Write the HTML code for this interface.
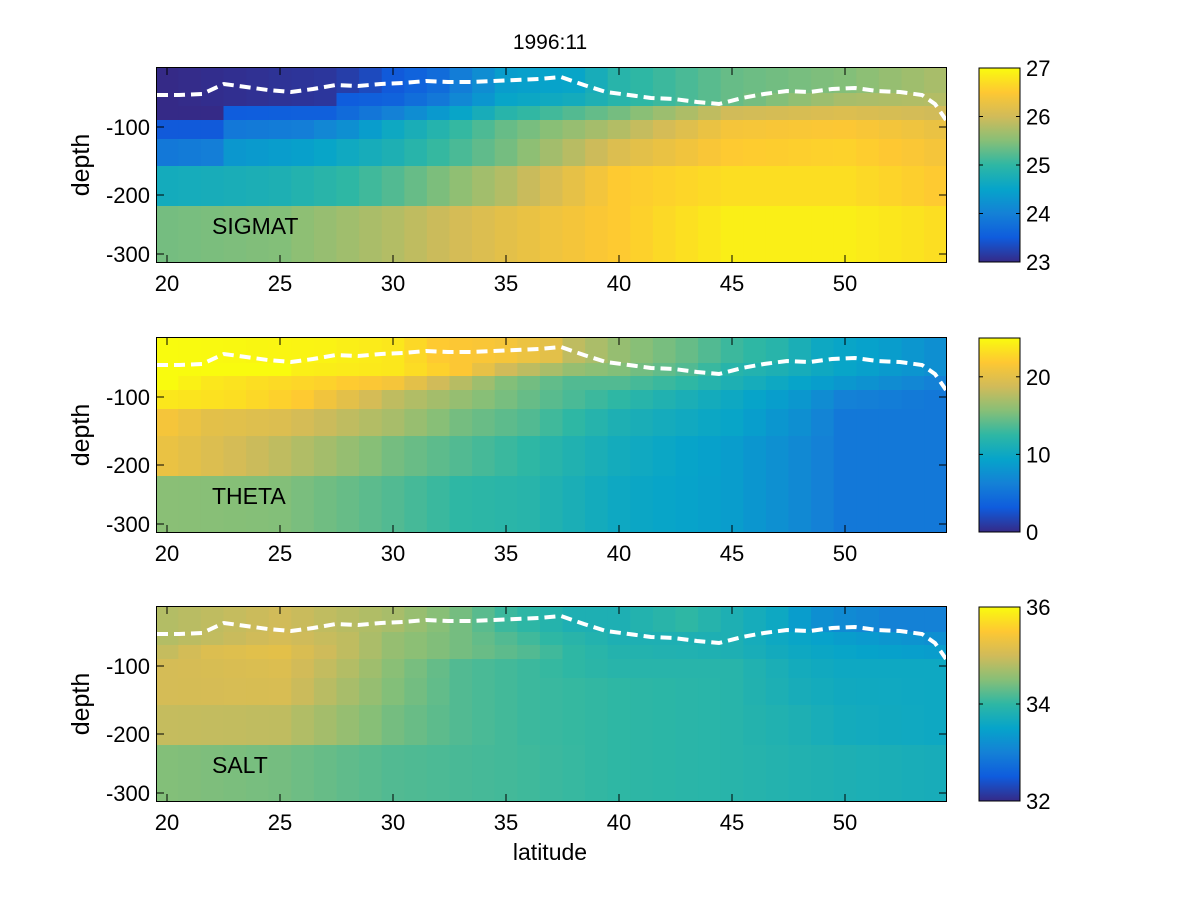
<!DOCTYPE html>
<html><head><meta charset="utf-8"><style>
html,body{margin:0;padding:0;background:#fff;}
svg{display:block;font-family:"Liberation Sans",sans-serif;}
</style></head><body>
<svg id="s" width="1200" height="900" xmlns="http://www.w3.org/2000/svg"></svg>
<script>
const svg=document.getElementById('s');
let h='';
const par=[[0,[53,42,135]],[0.125,[15,92,221]],[0.25,[20,129,214]],[0.375,[6,164,202]],[0.5,[46,183,164]],[0.625,[135,191,119]],[0.75,[209,187,89]],[0.875,[254,200,50]],[1,[249,251,14]]];
function col(t){t=Math.max(0,Math.min(1,t));for(let i=0;i<par.length-1;i++){const a=par[i],b=par[i+1];if(t<=b[0]){const f=(t-a[0])/(b[0]-a[0]);return 'rgb('+a[1].map((v,k)=>Math.round(v+(b[1][k]-v)*f)).join(',')+')';}}return 'rgb(249,251,14)';}
function interp(k,x){for(let i=0;i<k.length-1;i++){if(x<=k[i+1][0]){const f=(x-k[i][0])/(k[i+1][0]-k[i][0]);return k[i][1]+(k[i+1][1]-k[i][1])*f;}}return k[k.length-1][1];}
function K(o){return Object.keys(o).map(Number).sort((a,b)=>a-b).map(k=>[k,o[k]]);}
const data=[
[ {20:0,27:0.03,28:0.05,29:0.08,30:0.12,32:0.18,35:0.35,38:0.38,40:0.48,45:0.58,50:0.62,54:0.68},
  {20:0,27:0.03,28:0.13,30:0.15,32:0.22,35:0.38,38:0.42,40:0.48,45:0.58,50:0.68,54:0.7},
  {20:0,22:0,23:0.13,27:0.14,30:0.25,33:0.38,35:0.48,40:0.6,45:0.75,50:0.78,54:0.75},
  {20:0.12,22:0.12,23:0.22,26:0.24,28:0.3,30:0.4,35:0.58,40:0.7,45:0.85,50:0.87,54:0.82},
  {20:0.22,22:0.24,23:0.33,26:0.36,30:0.45,35:0.6,40:0.78,45:0.88,50:0.9,54:0.85},
  {20:0.42,22:0.43,25:0.45,28:0.5,30:0.55,35:0.7,40:0.88,45:0.93,50:0.93,54:0.88},
  {20:0.6,25:0.62,30:0.7,35:0.8,40:0.88,45:0.97,50:0.97,54:0.93} ],
[ {20:1,27:0.98,30:0.95,32:0.88,35:0.85,37:0.8,38:0.72,40:0.65,43:0.58,45:0.52,47:0.48,49:0.4,52:0.35,54:0.3},
  {20:1,25:1,26:0.97,30:0.95,33:0.87,35:0.75,38:0.65,40:0.62,43:0.55,45:0.48,47:0.45,50:0.38,54:0.3},
  {20:1,22:0.95,27:0.9,30:0.85,32:0.75,35:0.62,38:0.55,40:0.55,43:0.5,45:0.45,47:0.4,50:0.33,54:0.25},
  {20:0.95,23:0.93,26:0.88,28:0.8,30:0.72,33:0.65,36:0.58,40:0.5,45:0.4,48:0.33,50:0.25,54:0.22},
  {20:0.85,22:0.8,25:0.78,28:0.72,30:0.68,33:0.6,36:0.55,40:0.45,45:0.38,48:0.3,50:0.22,54:0.22},
  {20:0.82,22:0.78,25:0.72,28:0.65,30:0.6,33:0.55,36:0.5,40:0.42,45:0.35,48:0.28,50:0.22,54:0.22},
  {20:0.63,25:0.62,28:0.58,30:0.55,33:0.5,36:0.48,40:0.4,45:0.35,48:0.28,50:0.22,54:0.22} ],
[ {20:0.7,25:0.75,30:0.68,33:0.6,35:0.52,38:0.45,40:0.45,43:0.5,45:0.45,47:0.4,49:0.3,52:0.25,54:0.25},
  {20:0.7,25:0.76,28:0.72,30:0.65,33:0.6,35:0.55,37:0.5,40:0.45,45:0.45,47:0.4,50:0.35,54:0.3},
  {20:0.73,22:0.78,25:0.8,28:0.72,30:0.65,33:0.6,36:0.55,38:0.5,40:0.47,45:0.45,48:0.4,50:0.38,54:0.35},
  {20:0.76,25:0.78,28:0.7,30:0.63,33:0.55,36:0.52,40:0.48,45:0.48,48:0.42,50:0.4,54:0.4},
  {20:0.76,25:0.77,28:0.68,30:0.62,33:0.55,36:0.52,40:0.5,45:0.48,48:0.43,50:0.41,54:0.4},
  {20:0.73,25:0.72,28:0.65,30:0.6,33:0.55,36:0.52,40:0.5,45:0.48,48:0.45,50:0.42,54:0.4},
  {20:0.62,25:0.6,28:0.57,30:0.55,35:0.53,40:0.5,45:0.48,50:0.45,54:0.43} ]];
const tops=[68,338,607];
const rowsY=[0,25,38,52,71,98,138,194];
const names=['SIGMAT','THETA','SALT'];
const cb=[[[23,0],[24,0.25],[25,0.5],[26,0.75],[27,1]],[[0,0],[10,0.4],[20,0.8]],[[32,0],[34,0.5],[36,1]]];
const line=[[157,95],[179,95],[202,94],[224,84],[246,87],[268,90],[291,92],[313,89],[336,85],[358,86],[381,84],[403,83],[426,81],[448,82],[471,82],[493,81],[516,80],[539,79],[561,77],[584,85],[606,92],[629,95],[651,98],[674,99],[697,102],[719,104],[742,98],[764,94],[787,91],[810,92],[832,89],[855,88],[877,91],[900,92],[922,95],[935,104],[946,120]];
const px=l=>167+(l-20)*22.6;
h+='<text x="550" y="49" font-size="21" text-anchor="middle">1996:11</text>';
for(let p=0;p<3;p++){
  const T=tops[p];
  for(let r=0;r<7;r++){
    const k=K(data[p][r]);
    for(let lat=20;lat<=54;lat++){
      let x0=Math.max(157,px(lat-0.5)),x1=Math.min(946,px(lat+0.5));
      h+=`<rect x="${x0.toFixed(1)}" y="${T+rowsY[r]}" width="${(x1-x0+0.6).toFixed(1)}" height="${rowsY[r+1]-rowsY[r]+0.5}" fill="${col(interp(k,lat))}"/>`;
    }
  }
  h+=`<polyline points="${line.map(q=>q[0]+','+(q[1]-68+T)).join(' ')}" fill="none" stroke="#fff" stroke-width="4" stroke-dasharray="11,6"/>`;
  h+=`<rect x="156.5" y="${T-0.5}" width="790" height="195" fill="none" stroke="#000" stroke-width="1"/>`;
  h+=`<text x="212" y="${T+166}" font-size="23">${names[p]}</text>`;
  [[-100,127],[-200,195],[-300,254]].forEach(([v,y])=>{y=y-68+T;
    h+=`<text x="150" y="${y+8}" font-size="22" text-anchor="end">${v}</text>`;
    h+=`<line x1="157" x2="164" y1="${y}" y2="${y}" stroke="#000"/><line x1="939" x2="946" y1="${y}" y2="${y}" stroke="#000"/>`;});
  h+=`<text transform="translate(89,${T+97}) rotate(-90)" font-size="25" text-anchor="middle">depth</text>`;
  for(let l=20;l<=50;l+=5){const x=px(l);
    h+=`<text x="${x}" y="${T+223}" font-size="22" text-anchor="middle">${l}</text>`;
    h+=`<line x1="${x}" x2="${x}" y1="${T+194}" y2="${T+187}" stroke="#000"/><line x1="${x}" x2="${x}" y1="${T}" y2="${T+7}" stroke="#000"/>`;}
  const cx=979,cw=41;
  h+=`<defs><linearGradient id="g${p}" x1="0" y1="1" x2="0" y2="0">${par.map(q=>`<stop offset="${q[0]}" stop-color="rgb(${q[1].join(',')})"/>`).join('')}</linearGradient></defs>`;
  h+=`<rect x="${cx}" y="${T}" width="${cw}" height="194" fill="url(#g${p})" stroke="#000" stroke-width="1"/>`;
  cb[p].forEach(([v,f])=>{const y=T+194-f*194;
    h+=`<text x="1026" y="${y+8}" font-size="22">${v}</text>`;
    h+=`<line x1="${cx}" x2="${cx+4}" y1="${y}" y2="${y}" stroke="#000"/><line x1="${cx+cw-4}" x2="${cx+cw}" y1="${y}" y2="${y}" stroke="#000"/>`;});
}
h+='<text x="550" y="860" font-size="23" text-anchor="middle">latitude</text>';
svg.innerHTML=h;
</script>
</body></html>
